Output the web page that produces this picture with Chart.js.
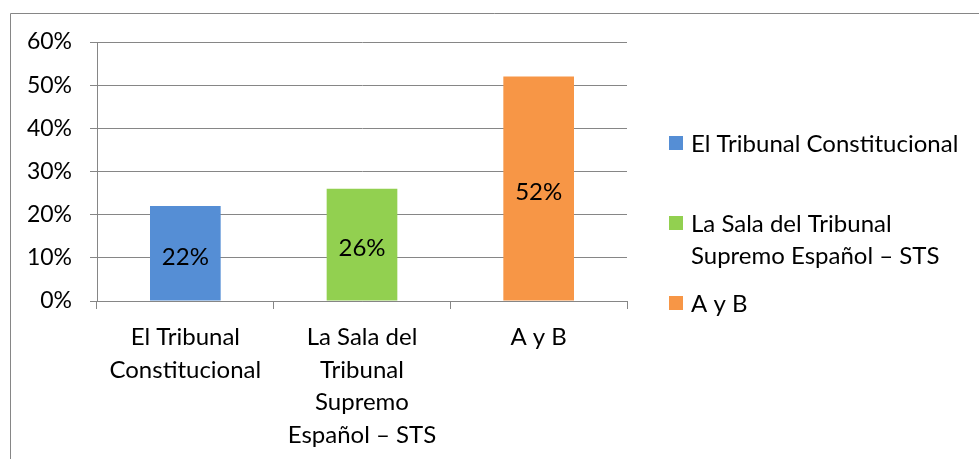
<!DOCTYPE html>
<html>
<head>
<meta charset="utf-8">
<script src="https://cdn.jsdelivr.net/npm/chart.js@4/dist/chart.umd.min.js"></script>
<style>
  html, body { margin: 0; padding: 0; background: #fff; }
  #wrap { width: 979px; height: 459px; }
</style>
</head>
<body>
<div id="wrap"><canvas id="myBarChart" width="979" height="459"></canvas></div>
<script>
// chart data
var categories = [
    ["El Tribunal", "Constitucional"],
    ["La Sala del", "Tribunal", "Supremo", "Español – STS"],
    "A y B"
];
var legendLabels = [
    ["El Tribunal Constitucional"],
    ["La Sala del Tribunal", "Supremo Español – STS"],
    ["A y B"]
];
var values = [22, 26, 52];
var barColors = ["#558ed5", "#92d050", "#f79646"];
var yTicks = [0, 10, 20, 30, 40, 50, 60];

var FONT = "Lato";
var gray = "#868686";

// frame around the chart (top and left edges only visible)
var framePlugin = {
    id: 'frame',
    beforeDraw: function (chart) {
        var c = chart.ctx;
        c.save();
        c.strokeStyle = gray;
        c.lineWidth = 1;
        c.beginPath();
        c.moveTo(10.5, chart.height);
        c.lineTo(10.5, 13.5);
        c.lineTo(chart.width, 13.5);
        c.stroke();
        c.restore();
    }
};

// percentage labels inside bars
var valueLabels = {
    id: 'valueLabels',
    afterDatasetsDraw: function (chart) {
        var c = chart.ctx;
        var meta = chart.getDatasetMeta(0);
        c.save();
        c.font = "24px " + FONT;
        c.fillStyle = "#000";
        c.textAlign = "center";
        c.textBaseline = "middle";
        meta.data.forEach(function (bar, i) {
            var mid = (bar.y + bar.base) / 2;
            c.fillText(values[i] + "%", bar.x, mid + 4);
        });
        c.restore();
    }
};

// legend on the right with wrapped entries
var sideLegend = {
    id: 'sideLegend',
    afterDraw: function (chart) {
        var c = chart.ctx;
        var x0 = chart.chartArea.right + 42;
        var rows = [143, 223, 303];
        c.save();
        c.font = "24px " + FONT;
        c.textBaseline = "middle";
        legendLabels.forEach(function (lines, i) {
            c.fillStyle = barColors[i];
            c.fillRect(x0, rows[i] - 7, 14, 14);
            c.fillStyle = "#000";
            lines.forEach(function (t, j) {
                c.fillText(t, x0 + 22, rows[i] + 1 + j * 32);
            });
        });
        c.restore();
    }
};

var ctx = document.getElementById("myBarChart").getContext('2d');

var myBarChart = new Chart(ctx, {
    type: 'bar',
    data: {
        labels: categories,
        datasets: [{
            data: values,
            backgroundColor: barColors,
            borderWidth: 0,
            categoryPercentage: 1,
            barPercentage: 0.4
        }]
    },
    options: {
        responsive: false,
        animation: false,
        events: [],
        layout: { padding: { left: 0, right: 352, top: 42, bottom: 0 } },
        plugins: {
            legend: { display: false },
            tooltip: { enabled: false }
        },
        scales: {
            x: {
                grid: { drawOnChartArea: false, drawTicks: true, tickLength: 8, color: gray },
                border: { color: gray },
                ticks: {
                    color: "#000",
                    font: { family: FONT, size: 24, lineHeight: 1.36 },
                    padding: 12,
                    maxRotation: 0,
                    autoSkip: false
                },
                afterFit: function (s) { s.height = 158; }
            },
            y: {
                min: 0,
                max: 60,
                afterBuildTicks: function (s) {
                    s.ticks = yTicks.map(function (v) { return { value: v }; });
                },
                grid: { color: gray, tickLength: 7 },
                border: { color: gray },
                ticks: {
                    color: "#000",
                    font: { family: FONT, size: 23 },
                    padding: 18,
                    callback: function (v) { return v + "%"; }
                },
                afterFit: function (s) { s.width = 97; }
            }
        }
    },
    plugins: [framePlugin, valueLabels, sideLegend]
});
</script>
</body>
</html>
